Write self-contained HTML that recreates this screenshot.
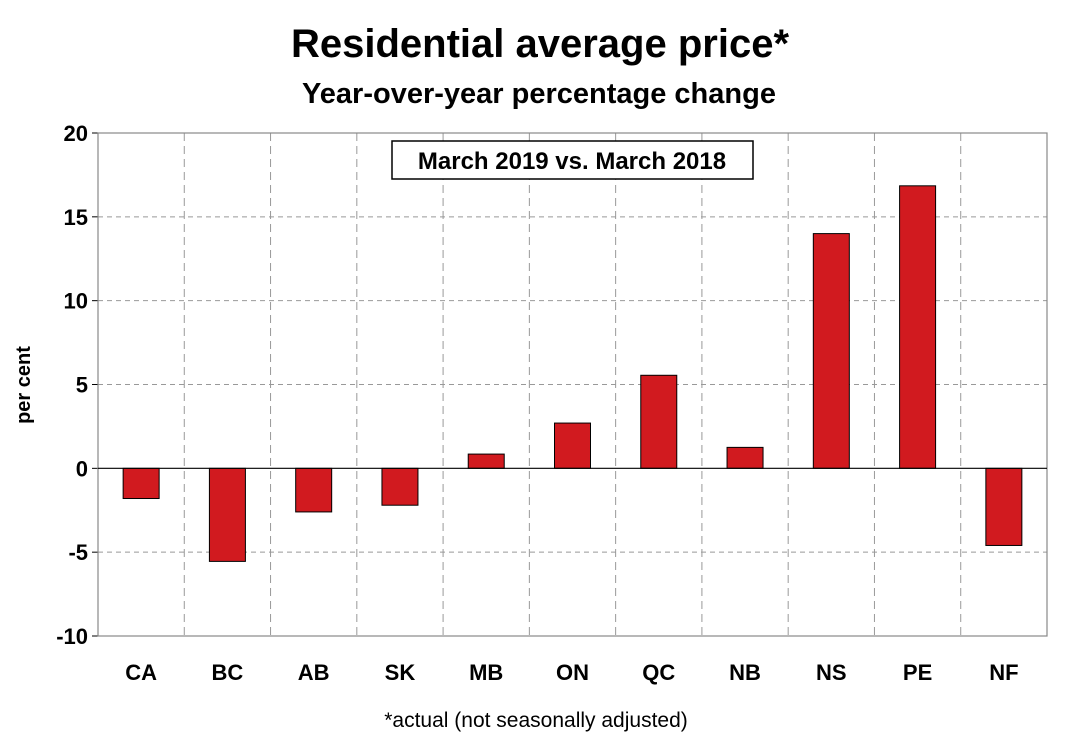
<!DOCTYPE html>
<html><head><meta charset="utf-8">
<style>
html,body{margin:0;padding:0;background:#fff;}
body{width:1079px;height:739px;overflow:hidden;font-family:"Liberation Sans",Arial,sans-serif;}
</style></head>
<body>
<svg id="chart" width="1079" height="739" xmlns="http://www.w3.org/2000/svg" font-family="Liberation Sans, Arial, sans-serif">
<text x="540" y="57" text-anchor="middle" font-size="40" font-weight="bold">Residential average price*</text>
<text x="539" y="103" text-anchor="middle" font-size="29" font-weight="bold">Year-over-year percentage change</text>
<g id="grid"></g>
<g id="bars"></g>
<g id="axes"></g>
<rect x="392" y="141" width="361" height="38" fill="#fff" stroke="#000" stroke-width="1.5"/>
<text x="572" y="169" text-anchor="middle" font-size="24" font-weight="bold">March 2019 vs. March 2018</text>
<text transform="translate(30,385) rotate(-90)" text-anchor="middle" font-size="20" font-weight="bold">per cent</text>
<text x="536" y="727" text-anchor="middle" font-size="21">*actual (not seasonally adjusted)</text>
</svg>
<script>
const categories = ["CA","BC","AB","SK","MB","ON","QC","NB","NS","PE","NF"];
const values = [-1.8,-5.55,-2.6,-2.2,0.85,2.7,5.55,1.25,14.0,16.85,-4.6];
const yTicks = [-10,-5,0,5,10,15,20];

const L=98,R=1047,T=133,B=636,ymin=-10,ymax=20;
const ns="http://www.w3.org/2000/svg";
const bw=(R-L)/categories.length;
const y=v=>T+(ymax-v)/(ymax-ymin)*(B-T);
const x=i=>L+bw*i;
function mk(tag,attrs,parent){const e=document.createElementNS(ns,tag);for(const k in attrs)e.setAttribute(k,attrs[k]);document.getElementById(parent).appendChild(e);return e;}

yTicks.forEach(t=>{
  if(t!==ymin && t!==ymax && t!==0){
    const g=mk("line",{x1:L,x2:R,y1:y(t),y2:y(t),stroke:"#999","stroke-dasharray":"5,4","stroke-width":1},"grid");
    
    
  }
  const tk=mk("line",{x1:L-6,x2:L,y1:y(t),y2:y(t),stroke:"#000","stroke-width":1},"axes");
  
  
  const lb=mk("text",{x:L-10,y:y(t)+8,"text-anchor":"end","font-size":22,"font-weight":"bold"},"axes");
  lb.textContent=t;
  
  
});
for(let i=1;i<categories.length;i++){
  const g=mk("line",{x1:x(i),x2:x(i),y1:T,y2:B,stroke:"#999","stroke-dasharray":"8,5","stroke-width":1},"grid");
  
  
}
const fr=mk("rect",{x:L,y:T,width:R-L,height:B-T,fill:"none",stroke:"#888","stroke-width":1.2},"axes");


const zl=mk("line",{x1:L,x2:R,y1:y(0),y2:y(0),stroke:"#000","stroke-width":1.2},"axes");



categories.forEach((c,i)=>{
  const v=values[i];
  const cx=x(i)+bw/2, w=36;
  const b=mk("rect",{x:cx-w/2,y:Math.min(y(v),y(0)),width:w,height:Math.abs(y(v)-y(0)),fill:"#d11a1f",stroke:"#000","stroke-width":1},"bars");
  
  
  const lb=mk("text",{x:cx,y:680,"text-anchor":"middle","font-size":22,"font-weight":"bold"},"axes");
  lb.textContent=c;
  
  
});
</script>
</body></html>
